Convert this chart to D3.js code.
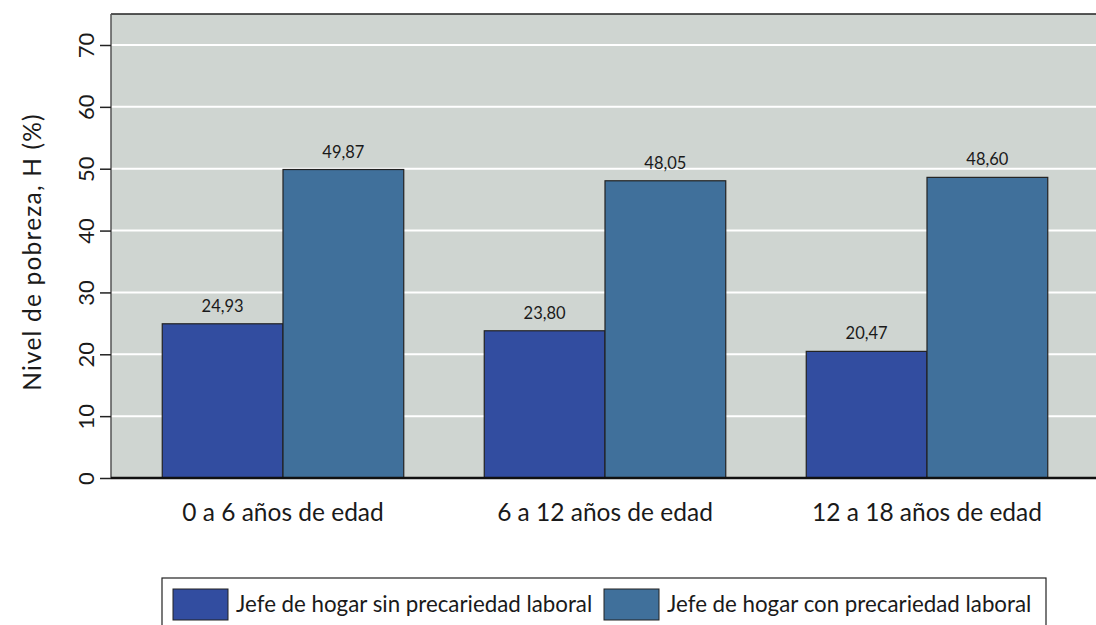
<!DOCTYPE html>
<html>
<head>
<meta charset="utf-8">
<script src="https://cdn.jsdelivr.net/npm/d3@7"></script>
<style>
  body { margin: 0; background: #fff; }
  text { font-family: Lato, "Open Sans", sans-serif; fill: #1a1a1a; }
</style>
</head>
<body>
<div id="chart"></div>
<script>
const categories = ['0 a 6 años de edad', '6 a 12 años de edad', '12 a 18 años de edad']
const seriesNames = ['Jefe de hogar sin precariedad laboral', 'Jefe de hogar con precariedad laboral']
const sinPrecariedad = [24.93, 23.80, 20.47]
const conPrecariedad = [49.87, 48.05, 48.60]
const yTicks = [0, 10, 20, 30, 40, 50, 60, 70]

const colors = ['#324da0', '#40709b']

let w = 1096,
    h = 625

const plot = { left: 111, top: 14, right: 1110, bottom: 478 }

const svg = d3.select('#chart')
              .append('svg')
              .attr('width', w)
              .attr('height', h)

const y = d3.scaleLinear()
            .domain([0, 70])
            .range([plot.bottom, 45])

const x0 = d3.scaleBand()
             .domain(categories)
             .range([122, 1088])
             .paddingInner(0.25)
             .paddingOuter(0.125)

const x1 = d3.scaleBand()
             .domain([0, 1])
             .range([0, x0.bandwidth()])

// plot region background
svg.append('rect')
   .attr('x', plot.left)
   .attr('y', plot.top)
   .attr('width', plot.right - plot.left)
   .attr('height', plot.bottom - plot.top)
   .attr('fill', '#cfd5d1')

svg.append('line')
   .attr('x1', plot.left).attr('x2', plot.right)
   .attr('y1', plot.top).attr('y2', plot.top)
   .attr('stroke', '#222').attr('stroke-width', 1.5)

// gridlines
svg.append('g')
   .selectAll('line')
   .data(yTicks.filter(d => d > 0))
   .enter()
   .append('line')
   .attr('x1', plot.left)
   .attr('x2', plot.right)
   .attr('y1', d => y(d))
   .attr('y2', d => y(d))
   .attr('stroke', '#fff')
   .attr('stroke-width', 2)

// y axis
const yAxis = svg.append('g')
                 .attr('transform', `translate(${plot.left},0)`)
                 .call(d3.axisLeft(y).tickValues(yTicks).tickSize(11).tickPadding(0).tickFormat(d3.format('d')))
yAxis.select('.domain')
     .attr('d', `M0,${plot.top}V${plot.bottom}`)
     .attr('stroke', '#555')
     .attr('stroke-width', 1.5)
yAxis.selectAll('.tick line').attr('stroke', '#222').attr('stroke-width', 1.5)
yAxis.selectAll('.tick text')
     .attr('x', null).attr('dy', null)
     .attr('transform', 'translate(-23,0) rotate(-90)')
     .attr('text-anchor', 'middle')
     .attr('dominant-baseline', 'middle')
     .style('font-size', '22px')
     .style('font-family', 'Lato, sans-serif')
     .attr('fill', '#1a1a1a')

svg.append('text')
   .attr('transform', `translate(41,${(plot.top + plot.bottom) / 2 + 6}) rotate(-90)`)
   .attr('text-anchor', 'middle')
   .style('font-size', '24.5px')
   .style('letter-spacing', '1.2px')
   .text('Nivel de pobreza, H (%)')

// bars
const rows = categories.map((c, i) => ({ cat: c, vals: [sinPrecariedad[i], conPrecariedad[i]] }))

const groups = svg.append('g')
                  .selectAll('g')
                  .data(rows)
                  .enter()
                  .append('g')
                  .attr('transform', d => `translate(${x0(d.cat)},0)`)

groups.selectAll('rect')
      .data(d => d.vals.map((v, k) => ({ k, v })))
      .enter()
      .append('rect')
      .attr('x', d => x1(d.k))
      .attr('y', d => y(d.v))
      .attr('width', x1.bandwidth())
      .attr('height', d => y(0) - y(d.v))
      .attr('fill', d => colors[d.k])
      .attr('stroke', '#222')
      .attr('stroke-width', 1.2)

groups.selectAll('text')
      .data(d => d.vals.map((v, k) => ({ k, v })))
      .enter()
      .append('text')
      .attr('x', d => x1(d.k) + x1.bandwidth() / 2)
      .attr('y', d => y(d.v) - 12)
      .attr('text-anchor', 'middle')
      .style('font-size', '16.5px')
      .text(d => d.v.toFixed(2).replace('.', ','))

// x axis
svg.append('line')
   .attr('x1', plot.left).attr('x2', plot.right)
   .attr('y1', plot.bottom).attr('y2', plot.bottom)
   .attr('stroke', '#111').attr('stroke-width', 2.5)

svg.append('g')
   .selectAll('text')
   .data(categories)
   .enter()
   .append('text')
   .attr('x', d => x0(d) + x0.bandwidth() / 2)
   .attr('y', 521)
   .attr('text-anchor', 'middle')
   .style('font-size', '24.5px')
   .text(d => d)

// legend
const legend = svg.append('g').attr('id', 'legend')
legend.append('rect')
      .attr('x', 162).attr('y', 578)
      .attr('width', 884).attr('height', 60)
      .attr('fill', '#fff')
      .attr('stroke', '#222').attr('stroke-width', 1.2)

const legendX = [173, 604]
seriesNames.forEach((name, i) => {
  legend.append('rect')
        .attr('x', legendX[i]).attr('y', 589)
        .attr('width', 55).attr('height', 31)
        .attr('fill', colors[i])
        .attr('stroke', '#222').attr('stroke-width', 1)
  legend.append('text')
        .attr('x', legendX[i] + 63).attr('y', 612)
        .style('font-size', '22.3px')
        .text(name)
})
</script>
</body>
</html>
